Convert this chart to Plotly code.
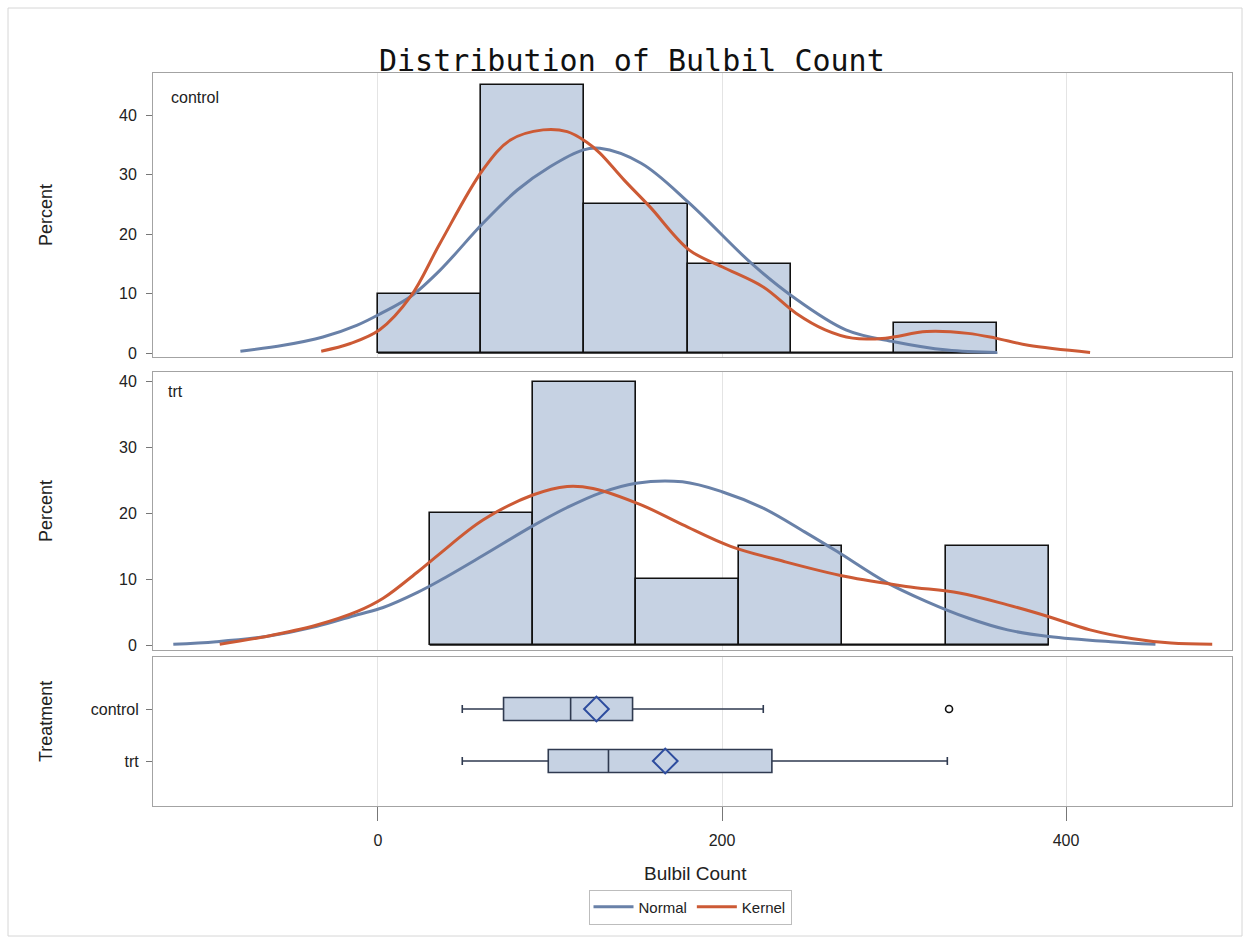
import plotly.graph_objects as go
from plotly.subplots import make_subplots

# ---------------- data ----------------
bin_width = 60
ctrl_bin_start = [0, 60, 120, 180, 240, 300]
ctrl_pct = [10, 45, 25, 15, 0, 5]
trt_bin_start = [30, 90, 150, 210, 270, 330]
trt_pct = [20, 40, 10, 15, 0, 15]

ctrl_normal_x = [-80, -55, -32, -12, 2, 19, 36, 61, 81, 100, 119, 129, 153, 181, 217, 241, 272, 300, 331, 360]
ctrl_normal_y = [0.3, 1.3, 2.7, 4.7, 6.7, 9.5, 13.9, 21.8, 27.4, 31.3, 34.1, 34.4, 31.9, 25.2, 15.1, 9.5, 3.9, 1.9, 0.5, 0.1]
ctrl_kernel_x = [-33, -16, 1, 19, 36, 61, 77, 96, 110, 121, 129, 143, 158, 181, 200, 224, 243, 260, 276, 295, 319, 343, 359, 378, 414]
ctrl_kernel_y = [0.3, 1.6, 3.9, 9.5, 18.4, 30.8, 35.8, 37.5, 37.2, 35.5, 33.6, 29.1, 24.6, 17.3, 14.5, 11.1, 6.7, 3.9, 2.5, 2.5, 3.6, 3.3, 2.5, 1.3, 0.1]

trt_normal_x = [-119, -94, -65, -36, -12, 3, 23, 36, 61, 90, 110, 129, 150, 177, 200, 224, 248, 267, 295, 319, 343, 366, 390, 426, 452]
trt_normal_y = [0.1, 0.5, 1.3, 2.8, 4.6, 5.7, 8.0, 9.8, 13.6, 18.1, 20.9, 23.1, 24.6, 24.8, 23.3, 20.8, 17.2, 14.2, 9.6, 6.6, 4.1, 2.3, 1.3, 0.5, 0.1]
trt_kernel_x = [-92, -65, -36, -12, 3, 23, 36, 61, 90, 110, 125, 153, 177, 205, 236, 272, 307, 338, 366, 390, 414, 438, 461, 485]
trt_kernel_y = [0.1, 1.3, 3.0, 5.1, 7.1, 11.1, 13.9, 19.0, 22.8, 24.1, 23.8, 21.3, 18.3, 15.0, 12.7, 10.4, 8.9, 7.9, 6.1, 4.3, 2.3, 1.0, 0.3, 0.1]

groups = ["control", "trt"]
box_low = [49, 49]
box_q1 = [73, 99]
box_median = [112, 134]
box_q3 = [148, 229]
box_high = [224, 331]
box_mean = [127, 167]
outlier_group = ["control"]
outlier_value = [332]

x_ticks = [0, 200, 400]
pct_ticks = [0, 10, 20, 30, 40]

# ---------------- styles ----------------
BAR_FILL = "#C6D2E3"
NORMAL_C = "#6981A8"
KERNEL_C = "#CC5A35"
FRAME_C = "#A3A3A3"
GRID_C = "#E4E4E4"
TXT_C = "#222222"
FONT = "Liberation Sans, Arial, sans-serif"

fig = make_subplots(rows=3, cols=1, shared_xaxes=True)

def add_hist(row, starts, pcts, normal_x, normal_y, kernel_x, kernel_y, legend):
    centers = [s + bin_width / 2 for s in starts]
    fig.add_trace(go.Bar(x=centers, y=pcts, width=bin_width, marker=dict(color=BAR_FILL, line=dict(color="#111111", width=1.6)),
                         showlegend=False, hoverinfo="skip"), row=row, col=1)
    fig.add_trace(go.Scatter(x=[starts[0], starts[-1] + bin_width], y=[0, 0], mode="lines",
                             line=dict(color="#111111", width=1.6), showlegend=False, hoverinfo="skip"), row=row, col=1)
    fig.add_trace(go.Scatter(x=normal_x, y=normal_y, mode="lines", name="Normal", line=dict(color=NORMAL_C, width=3, shape="spline"),
                             showlegend=legend, legendgroup="n"), row=row, col=1)
    fig.add_trace(go.Scatter(x=kernel_x, y=kernel_y, mode="lines", name="Kernel", line=dict(color=KERNEL_C, width=3, shape="spline"),
                             showlegend=legend, legendgroup="k"), row=row, col=1)

add_hist(1, ctrl_bin_start, ctrl_pct, ctrl_normal_x, ctrl_normal_y, ctrl_kernel_x, ctrl_kernel_y, True)
add_hist(2, trt_bin_start, trt_pct, trt_normal_x, trt_normal_y, trt_kernel_x, trt_kernel_y, False)

for i, g in enumerate(groups):
    fig.add_trace(go.Box(y=[g], q1=[box_q1[i]], median=[box_median[i]], q3=[box_q3[i]],
                         lowerfence=[box_low[i]], upperfence=[box_high[i]], orientation="h",
                         width=0.44, whiskerwidth=0.35, fillcolor=BAR_FILL,
                         line=dict(color="#2F3A50", width=1.6), boxpoints=False, showlegend=False,
                         hoverinfo="skip"), row=3, col=1)
fig.add_trace(go.Scatter(x=box_mean, y=groups, mode="markers",
                         marker=dict(symbol="diamond-open", size=19, color="#2D4C9E", line=dict(width=2, color="#2D4C9E")),
                         showlegend=False), row=3, col=1)
fig.add_trace(go.Scatter(x=outlier_value, y=outlier_group, mode="markers",
                         marker=dict(symbol="circle-open", size=7, color="#111111", line=dict(width=1.6, color="#111111")),
                         showlegend=False), row=3, col=1)

# ---------------- layout ----------------
L, R, T, B = 153, 15, 73, 135
W, H = 1247, 941
ph = H - T - B  # 733
pw = W - L - R  # 1079

def py(p):
    return (H - B - p) / ph

xr = [-130.8, 496.5]
common_x = dict(range=xr, showgrid=True, gridcolor=GRID_C, gridwidth=1, tickvals=x_ticks, zeroline=False,
                showline=True, mirror=True, linecolor=FRAME_C, linewidth=1)
fig.update_layout(
    xaxis=dict(**common_x, showticklabels=False, ticks=""),
    xaxis2=dict(**common_x, showticklabels=False, ticks=""),
    xaxis3=dict(**common_x, showticklabels=True, ticks="outside", ticklen=14, tickcolor="#777777",
                ticklabelstandoff=6, tickfont=dict(family=FONT, size=16, color=TXT_C)),
    yaxis=dict(domain=[py(357), py(73)], range=[-0.67, 47.06], tickvals=pct_ticks, ticks="outside", ticklen=6,
               tickcolor="#777777", showgrid=False, zeroline=False, showline=True, mirror=True, linecolor=FRAME_C,
               ticklabelstandoff=6, tickfont=dict(family=FONT, size=16, color=TXT_C)),
    yaxis2=dict(domain=[py(650), py(372)], range=[-0.76, 41.5], tickvals=pct_ticks, ticks="outside", ticklen=6,
                tickcolor="#777777", showgrid=False, zeroline=False, showline=True, mirror=True, linecolor=FRAME_C,
                ticklabelstandoff=6, tickfont=dict(family=FONT, size=16, color=TXT_C)),
    yaxis3=dict(domain=[0, py(657)], type="category", categoryarray=groups, range=[1.865, -1.0], ticks="outside",
                ticklen=6, tickcolor="#777777", showgrid=False, zeroline=False, showline=True, mirror=True,
                linecolor=FRAME_C, ticklabelstandoff=4, tickfont=dict(family=FONT, size=16, color=TXT_C)),
    width=W, height=H, margin=dict(l=L, r=R, t=T, b=B),
    plot_bgcolor="white", paper_bgcolor="white", bargap=0, barmode="overlay",
    legend=dict(orientation="h", x=(690 - L) / pw, xanchor="center", y=py(907), yanchor="middle",
                bordercolor="#BDBDBD", borderwidth=1, font=dict(family=FONT, size=15, color=TXT_C),
                itemwidth=40, bgcolor="white"),
    showlegend=True,
)

ann = [
    dict(text="Distribution of Bulbil Count", x=(632 - L) / pw, y=1, xref="paper", yref="paper",
         xanchor="center", yanchor="bottom", yshift=-7, showarrow=False,
         font=dict(family="DejaVu Sans Mono, monospace", size=30, color="#111111")),
    dict(text="control", x=(169 - L) / pw, y=py(97), xref="paper", yref="paper", xanchor="left", yanchor="middle",
         showarrow=False, font=dict(family=FONT, size=16, color=TXT_C)),
    dict(text="trt", x=(166 - L) / pw, y=py(391), xref="paper", yref="paper", xanchor="left", yanchor="middle",
         showarrow=False, font=dict(family=FONT, size=16, color=TXT_C)),
    dict(text="Percent", x=(46 - L) / pw, y=py(215), xref="paper", yref="paper", textangle=-90,
         xanchor="center", yanchor="middle", showarrow=False, font=dict(family=FONT, size=18, color=TXT_C)),
    dict(text="Percent", x=(46 - L) / pw, y=py(511), xref="paper", yref="paper", textangle=-90,
         xanchor="center", yanchor="middle", showarrow=False, font=dict(family=FONT, size=18, color=TXT_C)),
    dict(text="Treatment", x=(46 - L) / pw, y=py(722), xref="paper", yref="paper", textangle=-90,
         xanchor="center", yanchor="middle", showarrow=False, font=dict(family=FONT, size=18, color=TXT_C)),
    dict(text="Bulbil Count", x=(695 - L) / pw, y=py(873), xref="paper", yref="paper",
         xanchor="center", yanchor="middle", showarrow=False, font=dict(family=FONT, size=19, color=TXT_C)),
]
fig.update_layout(annotations=ann)

fig.add_shape(type="rect", xref="paper", yref="paper", x0=(8 - L) / pw, x1=(1242 - L) / pw,
              y0=py(936), y1=py(8), line=dict(color="#D6D6D6", width=1), layer="below")

fig.write_html("out.html")
